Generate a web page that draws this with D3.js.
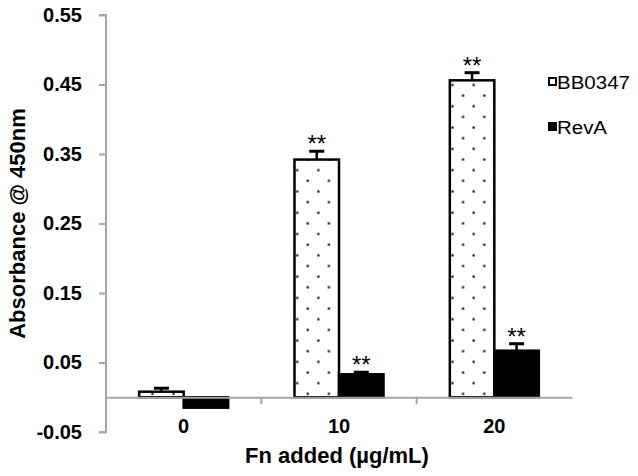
<!DOCTYPE html>
<html><head><meta charset="utf-8">
<script src="https://cdn.jsdelivr.net/npm/d3@7"></script>
<style>
html,body{margin:0;padding:0;background:#fff;}
svg{display:block;font-family:Arial,"Liberation Sans",sans-serif;}
</style></head>
<body>
<svg id="chart" width="638" height="476"></svg>
<script>
const categories = ["0", "10", "20"];
const seriesNames = ["BB0347", "RevA"];
const bb0347Values = [0.008, 0.342, 0.456];
const bb0347Errors = [0.005, 0.012, 0.011];
const revaValues = [-0.015, 0.033, 0.067];
const revaErrors = [0, 0.003, 0.010];
const significance = ["", "**", "**"];
const yTicks = [-0.05, 0.05, 0.15, 0.25, 0.35, 0.45, 0.55];

const svg = d3.select("#chart");
const axisColor = "#a6a6a6";

const y = d3.scaleLinear().domain([-0.05, 0.55]).range([432, 15]);
const x = d3.scaleBand().domain(categories).range([106, 572]).padding(0);
const xs = d3.scaleBand().domain(seriesNames).range([0, x.bandwidth()]).paddingInner(0).paddingOuter(0.745);

// pattern
const defs = svg.append("defs");
const pat = defs.append("pattern").attr("id", "dots").attr("patternUnits", "userSpaceOnUse")
  .attr("x", -1.4).attr("y", 5).attr("width", 21.2).attr("height", 21.3);
pat.append("rect").attr("width", 21.2).attr("height", 21.3).attr("fill", "#fff");
pat.append("rect").attr("x", 4.3).attr("y", 4.3).attr("width", 2.2).attr("height", 2.2).attr("fill", "#111");
pat.append("rect").attr("x", 14.9).attr("y", 14.95).attr("width", 2.2).attr("height", 2.2).attr("fill", "#111");

// y axis
const fmt = d => d3.format(".2f")(d).replace("−", "-");
const yAxis = d3.axisLeft(y).tickValues(yTicks).tickFormat(fmt).tickSize(7).tickPadding(17);
const yg = svg.append("g").attr("transform", "translate(106,0)").call(yAxis);
yg.select(".domain").attr("stroke", axisColor).attr("stroke-width", 2).attr("d", `M-7,${y(0.55)}H0V${y(-0.05)}H-7`);
yg.selectAll(".tick line").attr("stroke", axisColor).attr("stroke-width", 2);
yg.selectAll(".tick text").attr("fill", "#000").attr("font-size", 20).attr("font-weight", "bold")
  .attr("font-family", "Arial, 'Liberation Sans', sans-serif");

// bars
const data = categories.map((c, i) => ({
  cat: c,
  bars: [
    {s: "BB0347", v: bb0347Values[i], e: bb0347Errors[i], sig: significance[i]},
    {s: "RevA", v: revaValues[i], e: revaErrors[i], sig: significance[i]}
  ]
}));

const groups = svg.append("g").selectAll("g").data(data).join("g")
  .attr("transform", d => `translate(${x(d.cat)},0)`);

groups.selectAll("rect.bar").data(d => d.bars).join("rect")
  .attr("class", "bar")
  .attr("x", d => xs(d.s))
  .attr("width", xs.bandwidth())
  .attr("y", d => Math.min(y(d.v), y(0)))
  .attr("height", d => Math.abs(y(d.v) - y(0)))
  .attr("fill", d => d.s === "BB0347" ? "url(#dots)" : "#000")
  .attr("stroke", "#000").attr("stroke-width", 2.5);

// error bars
const eb = groups.selectAll("g.err").data(d => d.bars.filter(b => b.e > 0)).join("g").attr("class", "err");
eb.append("line")
  .attr("x1", d => xs(d.s) + xs.bandwidth() / 2).attr("x2", d => xs(d.s) + xs.bandwidth() / 2)
  .attr("y1", d => y(d.v)).attr("y2", d => y(d.v + d.e))
  .attr("stroke", "#000").attr("stroke-width", 2.5);
eb.append("line")
  .attr("x1", d => xs(d.s) + xs.bandwidth() / 2 - 7.5).attr("x2", d => xs(d.s) + xs.bandwidth() / 2 + 7.5)
  .attr("y1", d => y(d.v + d.e)).attr("y2", d => y(d.v + d.e))
  .attr("stroke", "#000").attr("stroke-width", 3);
groups.selectAll("text.sig").data(d => d.bars.filter(b => b.sig)).join("text")
  .attr("class", "sig")
  .attr("x", d => xs(d.s) + xs.bandwidth() / 2)
  .attr("y", d => y(d.v + d.e) + 1)
  .attr("text-anchor", "middle").attr("font-size", 24).attr("fill", "#000")
  .text(d => d.sig);

// x axis (zero line)
const xAxis = d3.axisBottom(x).tickSize(0).tickPadding(0);
const xg = svg.append("g").attr("transform", `translate(0,${y(0)})`).call(xAxis);
xg.select(".domain").attr("stroke", axisColor).attr("stroke-width", 2);
xg.selectAll(".tick line").remove();
xg.selectAll(".tick text").attr("fill", "#000").attr("font-size", 20).attr("font-weight", "bold")
  .attr("font-family", "Arial, 'Liberation Sans', sans-serif").attr("dy", 0).attr("y", 36);
// category boundary ticks
svg.append("g").selectAll("line").data(categories.slice(1)).join("line")
  .attr("x1", d => x(d)).attr("x2", d => x(d))
  .attr("y1", y(0)).attr("y2", y(0) + 7)
  .attr("stroke", axisColor).attr("stroke-width", 2);

// titles
svg.append("text").attr("x", 337).attr("y", 463).attr("text-anchor", "middle")
  .attr("font-size", 22).attr("font-weight", "bold").text("Fn added (µg/mL)");
svg.append("text").attr("transform", "translate(25,223.5) rotate(-90)").attr("text-anchor", "middle")
  .attr("font-size", 22).attr("font-weight", "bold").text("Absorbance @ 450nm");

// legend
const leg = svg.append("g").selectAll("g").data(seriesNames).join("g")
  .attr("transform", (d, i) => `translate(548,${88 + i * 45})`);
leg.append("rect").attr("x", 1).attr("y", -10).attr("width", 7).attr("height", 7)
  .attr("fill", d => d === "BB0347" ? "#fff" : "#000").attr("stroke", "#000").attr("stroke-width", 2);
leg.append("text").attr("x", 9).attr("y", 1).attr("font-size", 18).attr("fill", "#000")
  .attr("textLength", d => d === "BB0347" ? 73 : 50).attr("lengthAdjust", "spacingAndGlyphs")
  .text(d => d);
</script>
</body></html>
